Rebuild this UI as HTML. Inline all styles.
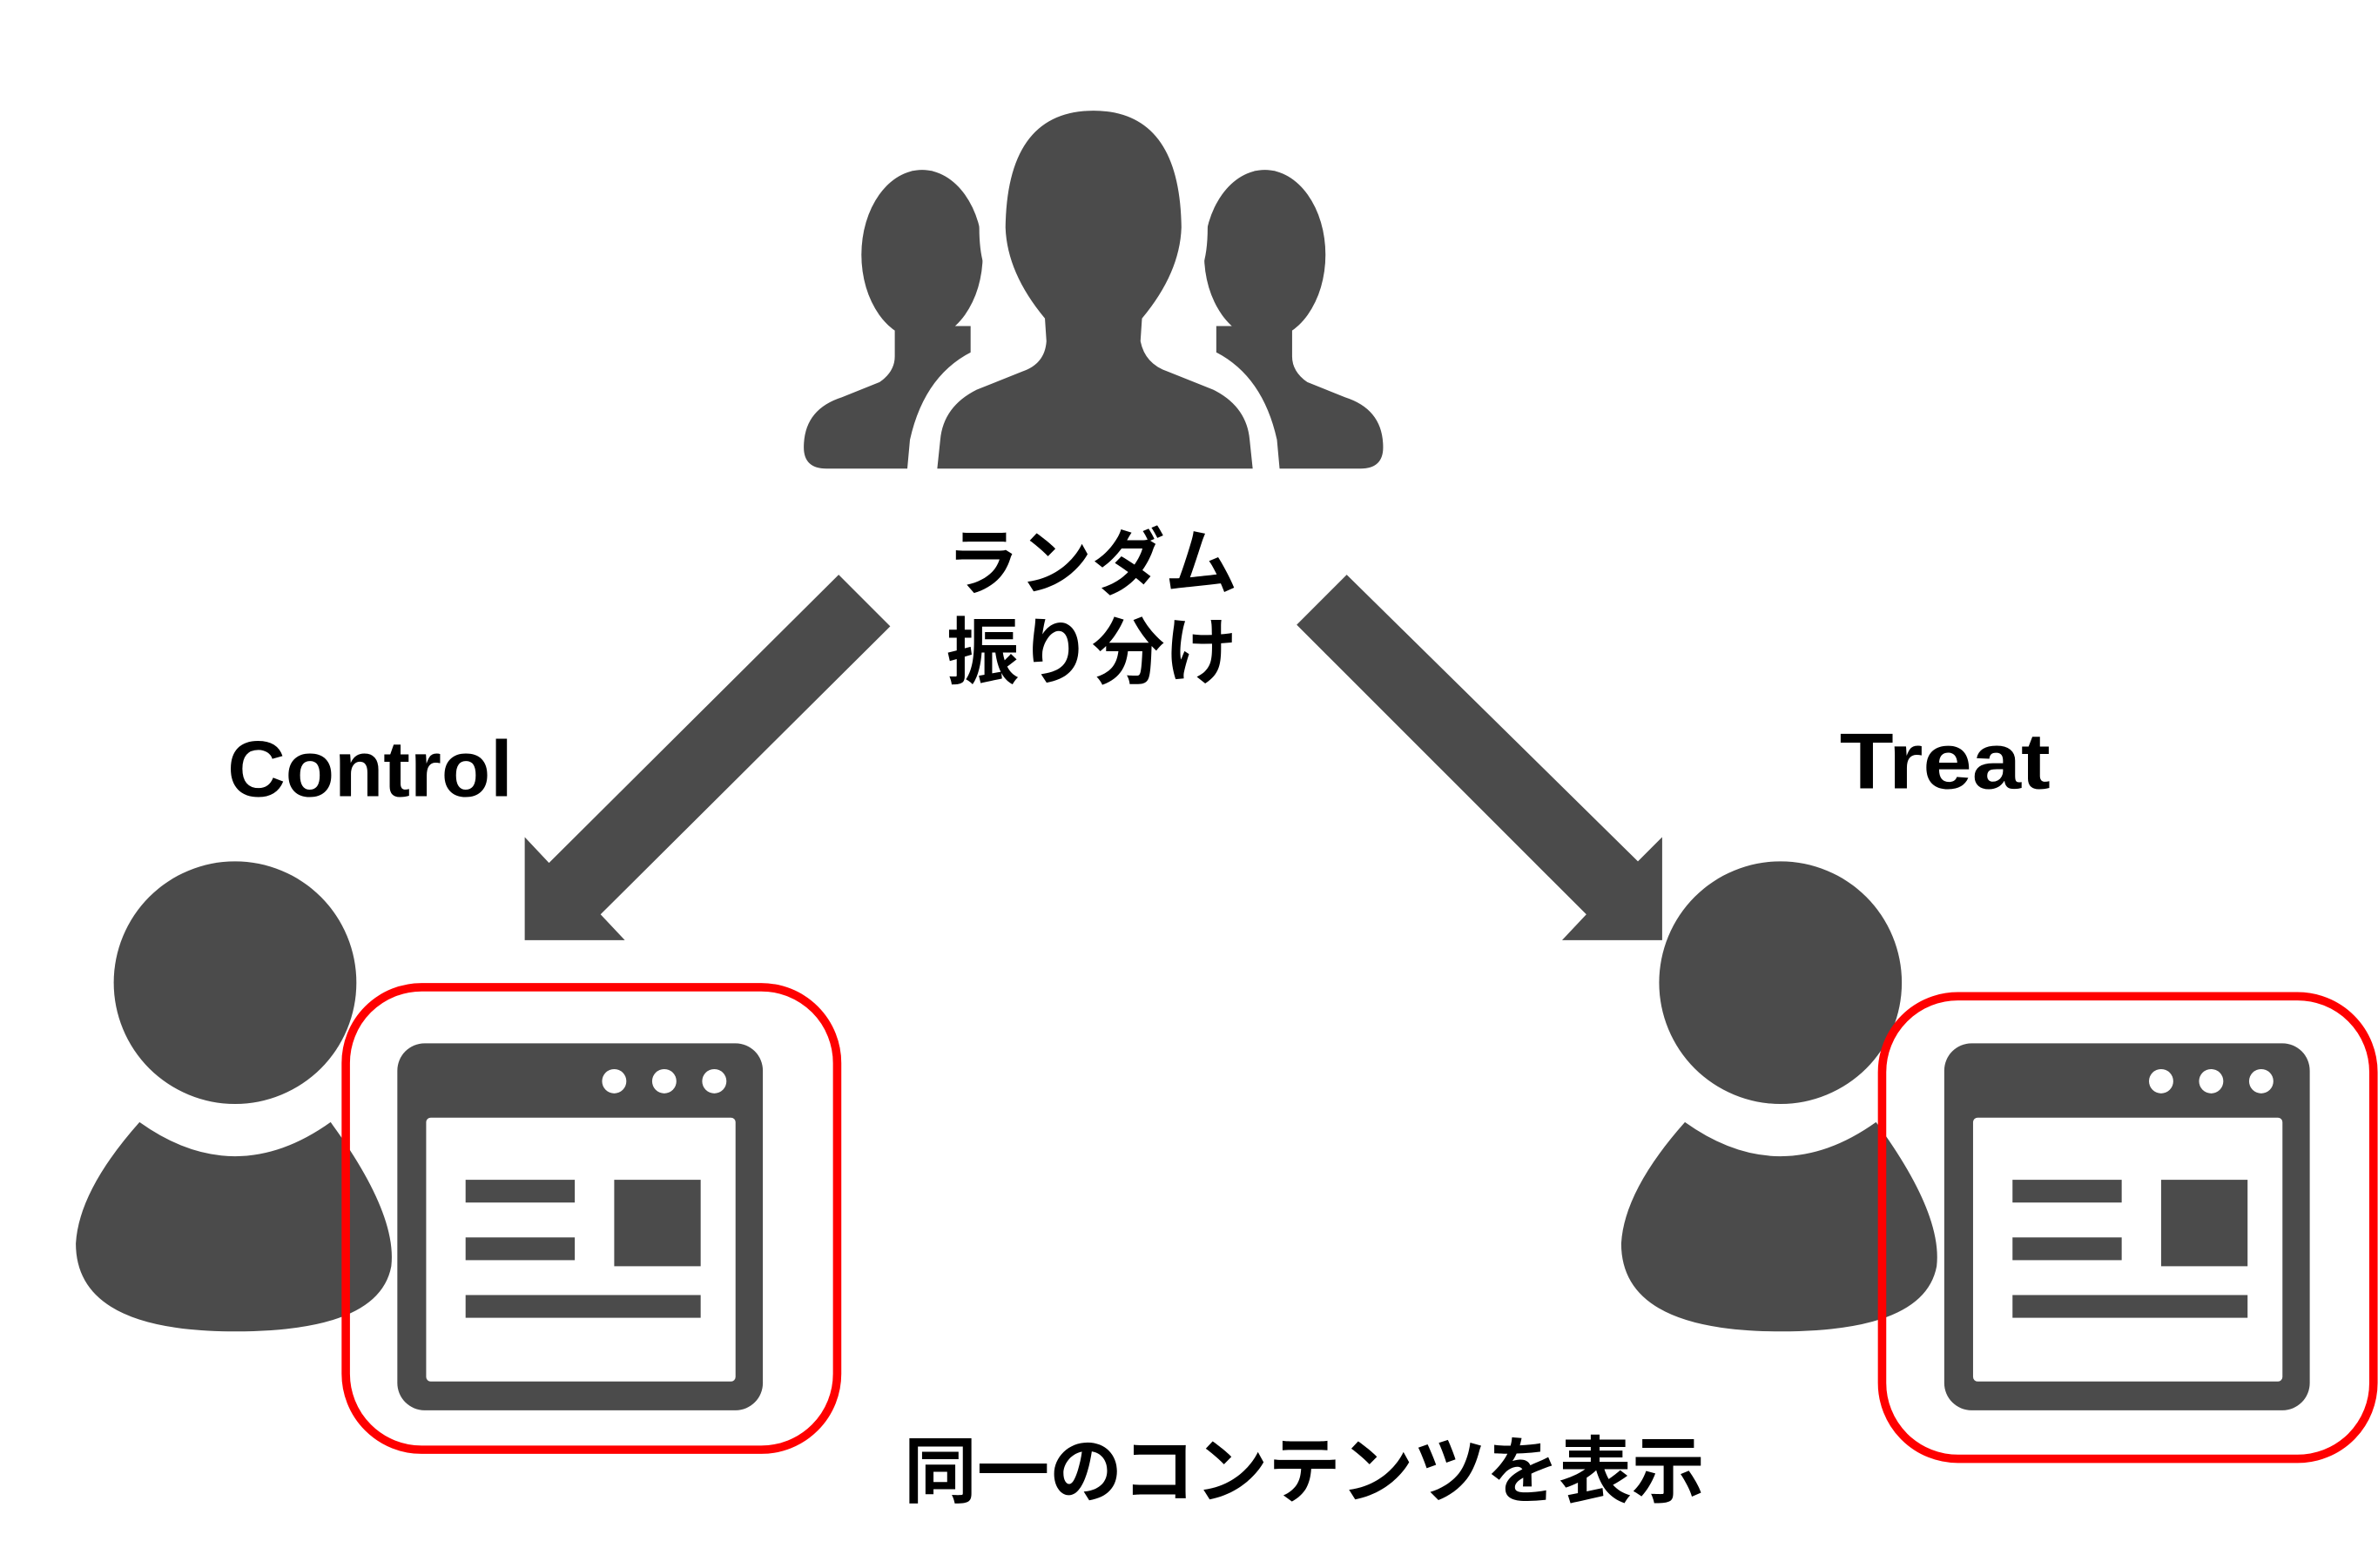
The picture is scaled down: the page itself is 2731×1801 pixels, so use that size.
<!DOCTYPE html>
<html><head><meta charset="utf-8"><style>
html,body{margin:0;padding:0;background:#fff;}
svg{display:block;}
text{font-family:"Liberation Sans","Noto Sans CJK JP",sans-serif;font-weight:bold;fill:#000;}
</style></head><body>
<svg width="2731" height="1801" viewBox="0 0 1568 1034" preserveAspectRatio="none" xmlns="http://www.w3.org/2000/svg">
<g fill="#4b4b4b">
<ellipse cx="608" cy="168" rx="40" ry="56"/>
<path d="M590,215 L640,215 L640,240 Q612,250 604,280 L602,309 L545,309 Q530,309 530,295 Q530,270 555,262 L580,252 Q590,245 590,235 Z"/>
<ellipse cx="834" cy="168" rx="40" ry="56"/>
<path d="M852,215 L802,215 L802,240 Q830,250 838,280 L840,309 L897,309 Q912,309 912,295 Q912,270 887,262 L862,252 Q852,245 852,235 Z"/>
<path d="M648,120 Q640,180 660,190 L645,230 Q610,245 600,290 L598,312 L622,312 Q620,270 650,245 L690,228 L690,200 Z" fill="#fff"/>
<path d="M794,120 Q802,180 782,190 L797,230 Q832,245 842,290 L844,312 L820,312 Q822,270 792,245 L752,228 L752,200 Z" fill="#fff"/>
<path d="M721,73 Q778,73 779,150 Q778,180 753,210 L752,225 Q755,240 770,245 L800,257 Q822,268 824,290 L826,309 L618,309 L620,290 Q622,268 644,257 L674,245 Q689,240 690,225 L689,210 Q664,180 663,150 Q664,73 721,73 Z"/>
<polygon points="553,379 587,413 396,603 412,620 346,620 346,552 362,569"/>
<polygon points="888,379 855,412 1046,603 1030,620 1096,620 1096,552 1080,568"/>
<circle cx="155" cy="648" r="80"/>
<path d="M92,740 Q155,785 218,740 Q262,800 258,835 Q250,878 155,878 Q50,878 50,820 Q52,785 92,740 Z"/>
<circle cx="1174" cy="648" r="80"/>
<path d="M1111,740 Q1174,785 1237,740 Q1281,800 1277,835 Q1269,878 1174,878 Q1069,878 1069,820 Q1071,785 1111,740 Z"/>
</g>
<g>
<rect x="262" y="688" width="241" height="242" rx="18" fill="#4b4b4b"/>
<rect x="281" y="737" width="204" height="174" rx="3" fill="#fff"/>
<circle cx="405" cy="713" r="8" fill="#fff"/><circle cx="438" cy="713" r="8" fill="#fff"/><circle cx="471" cy="713" r="8" fill="#fff"/>
<rect x="307" y="778" width="72" height="15" fill="#4b4b4b"/>
<rect x="307" y="816" width="72" height="15" fill="#4b4b4b"/>
<rect x="405" y="778" width="57" height="57" fill="#4b4b4b"/>
<rect x="307" y="854" width="155" height="15" fill="#4b4b4b"/>
<rect x="228" y="651" width="324" height="305" rx="50" fill="none" stroke="#ff0000" stroke-width="5.5"/>
</g>
<g transform="translate(1020,0)">
<rect x="262" y="688" width="241" height="242" rx="18" fill="#4b4b4b"/>
<rect x="281" y="737" width="204" height="174" rx="3" fill="#fff"/>
<circle cx="405" cy="713" r="8" fill="#fff"/><circle cx="438" cy="713" r="8" fill="#fff"/><circle cx="471" cy="713" r="8" fill="#fff"/>
<rect x="307" y="778" width="72" height="15" fill="#4b4b4b"/>
<rect x="307" y="816" width="72" height="15" fill="#4b4b4b"/>
<rect x="405" y="778" width="57" height="57" fill="#4b4b4b"/>
<rect x="307" y="854" width="155" height="15" fill="#4b4b4b"/>
</g>
<rect x="1241" y="657" width="324" height="305" rx="50" fill="none" stroke="#ff0000" stroke-width="5.5"/>
<text x="720" y="388" font-size="48" text-anchor="middle">ランダム</text>
<text x="720" y="447" font-size="48" text-anchor="middle">振り分け</text>
<text x="150" y="525" font-size="52" textLength="188" lengthAdjust="spacingAndGlyphs">Control</text>
<text x="1213" y="520" font-size="52" textLength="139" lengthAdjust="spacingAndGlyphs">Treat</text>
<text x="860" y="987" font-size="48" text-anchor="middle">同一のコンテンツを表示</text>
</svg>
</body></html>
